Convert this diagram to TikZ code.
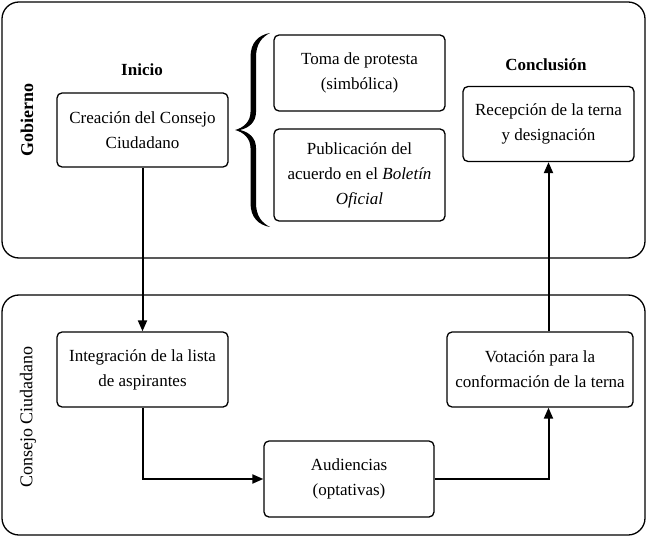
\documentclass[tikz,border=0pt]{standalone}
\usepackage{fontspec}
\setmainfont{Liberation Serif}
\usetikzlibrary{arrows.meta}
\begin{document}
\begin{tikzpicture}[x=1bp,y=-1bp,
  frame/.style={draw,line width=1.3bp,rounded corners=17bp,inner sep=0pt},
  stepbox/.style={draw,line width=1.3bp,rounded corners=5bp,align=center,inner sep=2bp,
    font=\fontsize{17bp}{25bp}\selectfont},
  lbl/.style={font=\fontsize{17bp}{20bp}\selectfont\bfseries},
  side/.style={rotate=90,font=\fontsize{18bp}{20bp}\selectfont},
  conn/.style={line width=2bp},
  arr/.style={conn,-{Triangle[length=11bp,width=9bp]}}]
\useasboundingbox (0,0) rectangle (648,537);
% frames
\node[frame,minimum width=643bp,minimum height=256bp] (gobf) at (323.5,130) {};
\node[frame,minimum width=643bp,minimum height=240bp] (conf) at (323.5,415) {};
% side labels
\node[side,font=\fontsize{18bp}{20bp}\selectfont\bfseries] (gob) at (27,120) {Gobierno};
\node[side] (cons) at (28,417) {Consejo Ciudadano};
% headings
\node[lbl] (ini) at (142,70) {Inicio};
\node[lbl] (conc) at (546,65) {Conclusión};
% boxes
\node[stepbox,minimum width=171bp,minimum height=74bp] (cre) at (142.5,130) {Creación del Consejo\\Ciudadano};
\node[stepbox,minimum width=171bp,minimum height=76bp] (toma) at (359.5,73) {Toma de protesta\\(simbólica)};
\node[stepbox,minimum width=171bp,minimum height=92bp] (pub) at (359.5,175) {Publicación del\\acuerdo en el \textit{Boletín}\\\textit{Oficial}};
\node[stepbox,minimum width=171bp,minimum height=75bp] (rec) at (548.5,124) {Recepción de la terna\\y designación};
\node[stepbox,minimum width=171bp,minimum height=75bp] (int) at (142.5,369.5) {Integración de la lista\\de aspirantes};
\node[stepbox,minimum width=170bp,minimum height=76bp] (aud) at (349,479) {Audiencias\\(optativas)};
\node[stepbox,minimum width=186bp,minimum height=75bp] (vot) at (540,369.5) {Votación para la\\conformación de la terna};
% brace (filled shape)
\fill (270,33) .. controls (259,35) and (250.5,42) .. (250.5,57)
  -- (250.5,112) .. controls (250.5,122) and (243,128) .. (235,130)
  .. controls (243,132) and (250.5,138) .. (250.5,148)
  -- (250.5,203) .. controls (250.5,218) and (259,225) .. (270,227)
  .. controls (262,223) and (256,216) .. (256,203)
  -- (256,148) .. controls (256,138) and (249,132) .. (240,130)
  .. controls (249,128) and (256,122) .. (256,112)
  -- (256,57) .. controls (256,44) and (262,37) .. (270,33) -- cycle;
% connectors
\draw[arr] (cre.south) -- (int.north);
\draw[arr] (int.south) |- (aud.west);
\draw[arr] (aud.east) -| (rec.south |- vot.south);
\draw[arr] (rec.south |- vot.north) -- (rec.south);
\end{tikzpicture}
\end{document}
